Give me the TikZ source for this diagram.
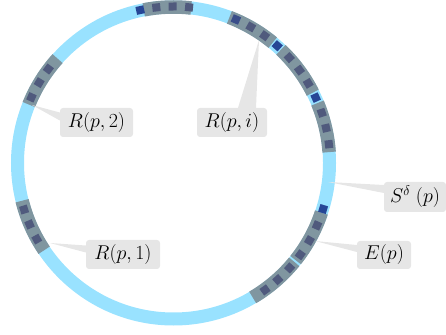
\RequirePackage{fix-cm}
\documentclass[tikz,border=0pt]{standalone}
\definecolor{ringblue}{RGB}{153,226,255}
\definecolor{bandgray}{RGB}{128,150,160}
\definecolor{sqdark}{RGB}{80,90,125}
\definecolor{sqmid}{RGB}{58,78,138}
\definecolor{sqbright}{RGB}{38,70,150}
\definecolor{lblgray}{RGB}{230,230,230}
\tikzset{
  ring/.style={draw=ringblue, line width=13pt},
  band/.style={draw=bandgray, line width=13.5pt},
  sqr/.style={minimum size=8pt, inner sep=0pt, outer sep=0pt},
  lbl/.style={fill=lblgray, rounded corners=3pt, inner sep=0pt,
    font=\fontsize{20}{24}\selectfont},
  wedge/.style={fill=lblgray}
}
\begin{document}
\begin{tikzpicture}[x=1pt,y=1pt]
\useasboundingbox (0,0) rectangle (446,334);
\coordinate (C) at (173.5,171);
\begin{scope}[shift={(C)}]
  \draw[ring] (0,0) circle[radius=156pt];
  % gray bands
  \foreach \a/\b in {101/83.5, 69/50.5, 46.5/26.8, 22.6/4, 138/158, 194/214, -18.5/-38.5, -39.3/-59.5}
    \draw[band] (\a:156pt) arc[start angle=\a, end angle=\b, radius=156pt];
  % squares
  \foreach \a/\c in {102.3/sqbright, 96.3/sqdark, 90.3/sqdark, 84.3/sqdark,
     66.5/sqmid, 60.4/sqdark, 54.4/sqdark, 48.5/sqbright, 42.3/sqdark, 36.4/sqdark,
     30.6/sqdark, 24.7/sqbright, 18.7/sqdark, 12.9/sqdark, 6.9/sqdark,
     143.1/sqdark, 149.1/sqdark, 155.2/sqdark,
     197.3/sqdark, 203.1/sqdark, 209.1/sqdark,
     -17.1/sqbright, -23.5/sqdark, -29.7/sqdark, -35.9/sqdark, -42.1/sqdark, -48.2/sqdark, -54.2/sqdark}
    \node[sqr, fill=\c, rotate=\a] at (\a:156.5pt) {};
\end{scope}
% label boxes
\node[lbl, minimum width=73pt, minimum height=29pt] (r2) at (96.5,211.5) {$R(p,2)$};
\node[lbl, minimum width=74pt, minimum height=29pt] (r1) at (123,79.5) {$R(p,1)$};
\node[lbl, minimum width=70pt, minimum height=29pt] (ri) at (232,211.5) {$R(p,i)$};
\node[lbl, minimum width=62pt, minimum height=30pt] (sd) at (415,137) {$S^{\delta}\;(p)$};
\node[lbl, minimum width=54pt, minimum height=28pt] (ep) at (384,79) {$E(p)$};
% wedge tips
\coordinate (t2) at (32,229);
\coordinate (t1) at (50,91);
\coordinate (ti) at (259,294);
\coordinate (ts) at (328,152);
\coordinate (te) at (315,93);
\fill[wedge] (t2) -- ([yshift=10pt]r2.west) -- ([yshift=2pt]r2.west) -- cycle;
\fill[wedge] (t1) -- ([yshift=9pt]r1.west) -- ([yshift=2pt]r1.west) -- cycle;
\fill[wedge] (ti) -- ([xshift=6pt]ri.north) -- ([xshift=24pt]ri.north) -- cycle;
\fill[wedge] (ts) -- ([yshift=12pt]sd.west) -- ([yshift=4pt]sd.west) -- cycle;
\fill[wedge] (te) -- ([yshift=10pt]ep.west) -- ([yshift=3pt]ep.west) -- cycle;
\end{tikzpicture}
\end{document}
